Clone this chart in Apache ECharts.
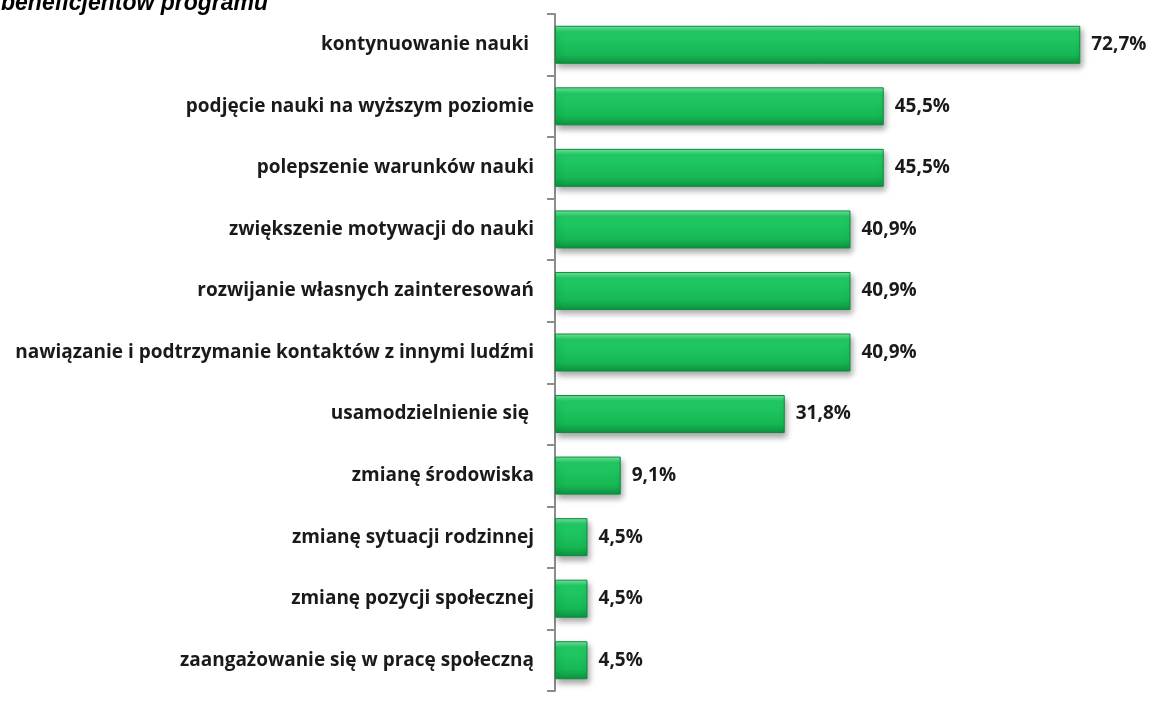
<!DOCTYPE html>
<html><head><meta charset="utf-8">
<script src="https://cdn.jsdelivr.net/npm/echarts@6/dist/echarts.min.js"></script>
<style>html,body{margin:0;padding:0;background:#fff}#c{width:1156px;height:702px}</style>
</head><body><div id="c"></div>
<script>
const categories = [
  'kontynuowanie nauki ',
  'podjęcie nauki na wyższym poziomie',
  'polepszenie warunków nauki',
  'zwiększenie motywacji do nauki',
  'rozwijanie własnych zainteresowań',
  'nawiązanie i podtrzymanie kontaktów z innymi ludźmi',
  'usamodzielnienie się ',
  'zmianę środowiska',
  'zmianę sytuacji rodzinnej',
  'zmianę pozycji społecznej',
  'zaangażowanie się w pracę społeczną'
];
const values = [72.7, 45.5, 45.5, 40.9, 40.9, 40.9, 31.8, 9.1, 4.5, 4.5, 4.5];
const titleText = 'beneficjentów programu';

const chart = echarts.init(document.getElementById('c'));
chart.setOption({
  animation: false,
  graphic: [{
    type: 'text', x: 1, y: 0, z: 10,
    style: {
      text: titleText, x: 0, y: 15, verticalAlign: 'bottom',
      font: 'italic bold 23px "Liberation Sans"', fill: '#000'
    }
  }],
  grid: {left: 555, right: 23, top: 14, bottom: 11, containLabel: false},
  xAxis: {type: 'value', min: 0, max: 80, show: false},
  yAxis: {
    type: 'category', inverse: true, data: categories,
    axisLine: {lineStyle: {color: '#8c8c8c', width: 2}},
    axisTick: {show: true, length: 8, lineStyle: {color: '#8c8c8c', width: 2}},
    axisLabel: {margin: 21, color: '#1a1a1a', fontFamily: 'Open Sans', fontWeight: 'bold', fontSize: 19}
  },
  series: [{
    type: 'bar', data: values, barWidth: 38,
    itemStyle: {
      color: new echarts.graphic.LinearGradient(0, 0, 0, 1, [
        {offset: 0, color: '#72e8a0'},
        {offset: 0.16, color: '#22cc66'},
        {offset: 0.75, color: '#16b854'},
        {offset: 1, color: '#0d9340'}
      ]),
      borderColor: '#0e8a3d', borderWidth: 1,
      shadowColor: 'rgba(0,0,0,0.35)', shadowBlur: 6, shadowOffsetX: 2, shadowOffsetY: 4
    },
    label: {
      show: true, position: 'right', distance: 11,
      formatter: p => p.value.toFixed(1).replace('.', ',') + '%',
      color: '#1a1a1a', fontFamily: 'Open Sans', fontWeight: 'bold', fontSize: 19
    }
  }]
});
</script></body></html>
